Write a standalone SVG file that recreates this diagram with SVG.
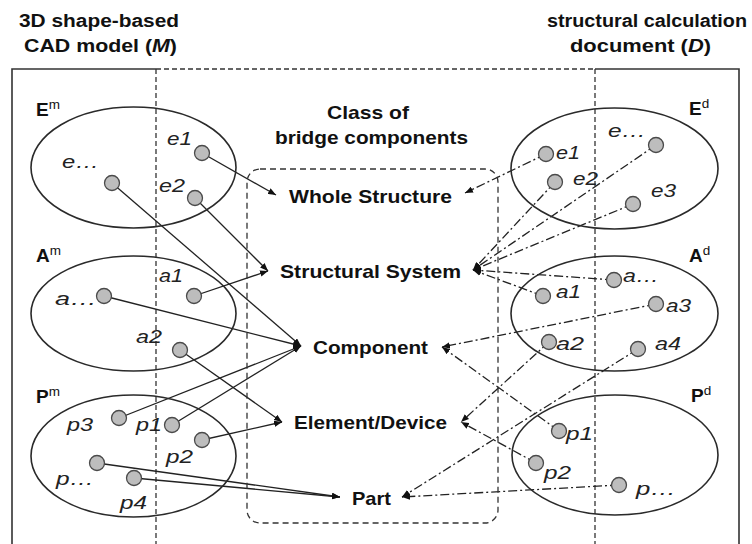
<svg xmlns="http://www.w3.org/2000/svg" width="752" height="544" viewBox="0 0 752 544">
<style>
  text { font-family: "Liberation Sans", Arial, sans-serif; fill: #111; }
  .title { font-size: 18px; font-weight: bold; }
  .cls { font-size: 19px; font-weight: bold; }
  .set { font-size: 19px; font-weight: bold; }
  .sup { font-size: 13.5px; font-weight: normal; }
  .el { font-size: 18px; font-style: italic; fill: #222; }
  .frame { fill: none; stroke: #333; stroke-width: 1.6; }
  .vdash { fill: none; stroke: #333; stroke-width: 1.3; stroke-dasharray: 5 3; }
  .classbox { fill: none; stroke: #333; stroke-width: 1.3; stroke-dasharray: 6 4; }
  .ell { fill: none; stroke: #2a2a2a; stroke-width: 1.6; }
  .dot { fill: #bdbdbd; stroke: #4a4a4a; stroke-width: 1.3; }
  .m2c { fill: none; stroke: #222; stroke-width: 1.3; marker-end: url(#arr); }
  .d2c { fill: none; stroke: #222; stroke-width: 1.3; stroke-dasharray: 9 3 2 3; marker-end: url(#arr); }
</style>
<defs>
  <marker id="arr" viewBox="0 0 10 8" refX="10" refY="4" markerWidth="8" markerHeight="6.5" markerUnits="userSpaceOnUse" orient="auto">
    <path d="M0,0 L10,4 L0,8 z" fill="#111" stroke="none"/>
  </marker>
</defs>

<g id="titles">
  <text class="title" x="19" y="27" textLength="160" lengthAdjust="spacingAndGlyphs">3D shape-based</text>
  <text class="title" x="24" y="52" textLength="153" lengthAdjust="spacingAndGlyphs">CAD model (<tspan font-style="italic">M</tspan>)</text>
  <text class="title" x="547" y="27" textLength="200" lengthAdjust="spacingAndGlyphs">structural calculation</text>
  <text class="title" x="570" y="52" textLength="141" lengthAdjust="spacingAndGlyphs">document (<tspan font-style="italic">D</tspan>)</text>
</g>

<g id="frame">
  <path class="frame" d="M12,544 V69 H156"/>
  <path class="frame" d="M595,69 H739 V544"/>
  <path class="vdash" d="M156,69 H595"/>
  <path class="vdash" d="M156,69 V544"/>
  <path class="vdash" d="M595,69 V544"/>
</g>

<g id="connectors">
  <!-- CAD model to class (solid) -->
  <line class="m2c" x1="202" y1="153" x2="276" y2="195"/>
  <line class="m2c" x1="195" y1="198" x2="268" y2="271"/>
  <line class="m2c" x1="112" y1="183" x2="301" y2="346"/>
  <line class="m2c" x1="194" y1="296" x2="268" y2="271"/>
  <line class="m2c" x1="104" y1="296" x2="301" y2="346"/>
  <line class="m2c" x1="180" y1="350" x2="282" y2="422"/>
  <line class="m2c" x1="119" y1="418" x2="301" y2="346"/>
  <line class="m2c" x1="172" y1="425" x2="301" y2="346"/>
  <line class="m2c" x1="202" y1="440" x2="282" y2="422"/>
  <line class="m2c" x1="97" y1="463" x2="340" y2="497"/>
  <line class="m2c" x1="134" y1="478" x2="340" y2="497"/>
  <!-- calculation document to class (dash-dot) -->
  <line class="d2c" x1="546" y1="154" x2="465" y2="193"/>
  <line class="d2c" x1="555" y1="182" x2="473" y2="270"/>
  <line class="d2c" x1="656" y1="145" x2="473" y2="270"/>
  <line class="d2c" x1="633" y1="204" x2="473" y2="270"/>
  <line class="d2c" x1="614" y1="280" x2="473" y2="270"/>
  <line class="d2c" x1="543" y1="296" x2="473" y2="270"/>
  <line class="d2c" x1="656" y1="304" x2="442" y2="347"/>
  <line class="d2c" x1="559" y1="431" x2="442" y2="347"/>
  <line class="d2c" x1="549" y1="342" x2="461" y2="422"/>
  <line class="d2c" x1="536" y1="463" x2="461" y2="422"/>
  <line class="d2c" x1="638" y1="349" x2="402" y2="497"/>
  <line class="d2c" x1="619" y1="485" x2="402" y2="497"/>
</g>

<g id="class-of-bridge-components">
  <rect class="classbox" x="247" y="169" width="251" height="354" rx="13"/>
  <text class="cls" x="327" y="119" textLength="82" lengthAdjust="spacingAndGlyphs">Class of</text>
  <text class="cls" x="275" y="144" textLength="193" lengthAdjust="spacingAndGlyphs">bridge components</text>
  <g id="whole-structure"><text class="cls" x="289" y="203" textLength="163" lengthAdjust="spacingAndGlyphs">Whole Structure</text></g>
  <g id="structural-system"><text class="cls" x="280" y="278" textLength="181" lengthAdjust="spacingAndGlyphs">Structural System</text></g>
  <g id="component"><text class="cls" x="313" y="354" textLength="115" lengthAdjust="spacingAndGlyphs">Component</text></g>
  <g id="element-device"><text class="cls" x="294" y="429" textLength="153" lengthAdjust="spacingAndGlyphs">Element/Device</text></g>
  <g id="part"><text class="cls" x="352" y="505" textLength="39" lengthAdjust="spacingAndGlyphs">Part</text></g>
</g>

<g id="Em">
  <ellipse class="ell" cx="133.5" cy="167.5" rx="102.5" ry="60.5"/>
  <text class="set" x="36" y="116">E<tspan class="sup" dy="-7">m</tspan></text>
  <g id="m-e-etc"><circle class="dot" cx="112" cy="183" r="7.5"/><text class="el" x="62" y="168" textLength="37" lengthAdjust="spacingAndGlyphs">e…</text></g>
  <g id="m-e1"><circle class="dot" cx="202" cy="153" r="7.5"/><text class="el" x="167" y="145" textLength="25" lengthAdjust="spacingAndGlyphs">e1</text></g>
  <g id="m-e2"><circle class="dot" cx="195" cy="198" r="7.5"/><text class="el" x="159" y="192" textLength="26" lengthAdjust="spacingAndGlyphs">e2</text></g>
</g>

<g id="Am">
  <ellipse class="ell" cx="133.5" cy="313.5" rx="102.5" ry="57.5"/>
  <text class="set" x="36" y="262">A<tspan class="sup" dy="-7">m</tspan></text>
  <g id="m-a-etc"><circle class="dot" cx="104" cy="296" r="7.5"/><text class="el" x="55" y="305" textLength="42" lengthAdjust="spacingAndGlyphs">a…</text></g>
  <g id="m-a1"><circle class="dot" cx="194" cy="296" r="7.5"/><text class="el" x="159" y="282" textLength="24" lengthAdjust="spacingAndGlyphs">a1</text></g>
  <g id="m-a2"><circle class="dot" cx="180" cy="350" r="7.5"/><text class="el" x="136" y="343" textLength="26" lengthAdjust="spacingAndGlyphs">a2</text></g>
</g>

<g id="Pm">
  <ellipse class="ell" cx="133.5" cy="456" rx="102.5" ry="61"/>
  <text class="set" x="36" y="403">P<tspan class="sup" dy="-7">m</tspan></text>
  <g id="m-p3"><circle class="dot" cx="119" cy="418" r="7.5"/><text class="el" x="67" y="431" textLength="26" lengthAdjust="spacingAndGlyphs">p3</text></g>
  <g id="m-p1"><circle class="dot" cx="172" cy="425" r="7.5"/><text class="el" x="136" y="431" textLength="26" lengthAdjust="spacingAndGlyphs">p1</text></g>
  <g id="m-p2"><circle class="dot" cx="202" cy="440" r="7.5"/><text class="el" x="166" y="463" textLength="27" lengthAdjust="spacingAndGlyphs">p2</text></g>
  <g id="m-p-etc"><circle class="dot" cx="97" cy="463" r="7.5"/><text class="el" x="56" y="485" textLength="38" lengthAdjust="spacingAndGlyphs">p…</text></g>
  <g id="m-p4"><circle class="dot" cx="134" cy="478" r="7.5"/><text class="el" x="120" y="509" textLength="27" lengthAdjust="spacingAndGlyphs">p4</text></g>
</g>

<g id="Ed">
  <ellipse class="ell" cx="614.5" cy="168.5" rx="103.5" ry="60.5"/>
  <text class="set" x="689" y="115">E<tspan class="sup" dy="-7">d</tspan></text>
  <g id="d-e1"><circle class="dot" cx="546" cy="154" r="7.5"/><text class="el" x="556" y="159" textLength="24" lengthAdjust="spacingAndGlyphs">e1</text></g>
  <g id="d-e2"><circle class="dot" cx="555" cy="182" r="7.5"/><text class="el" x="573" y="185" textLength="25" lengthAdjust="spacingAndGlyphs">e2</text></g>
  <g id="d-e-etc"><circle class="dot" cx="656" cy="145" r="7.5"/><text class="el" x="608" y="137" textLength="38" lengthAdjust="spacingAndGlyphs">e…</text></g>
  <g id="d-e3"><circle class="dot" cx="633" cy="204" r="7.5"/><text class="el" x="651" y="197" textLength="25" lengthAdjust="spacingAndGlyphs">e3</text></g>
</g>

<g id="Ad">
  <ellipse class="ell" cx="614.5" cy="313.5" rx="103.5" ry="57.5"/>
  <text class="set" x="689" y="262">A<tspan class="sup" dy="-7">d</tspan></text>
  <g id="d-a-etc"><circle class="dot" cx="614" cy="280" r="7.5"/><text class="el" x="623" y="282" textLength="36" lengthAdjust="spacingAndGlyphs">a…</text></g>
  <g id="d-a1"><circle class="dot" cx="543" cy="296" r="7.5"/><text class="el" x="556" y="298" textLength="25" lengthAdjust="spacingAndGlyphs">a1</text></g>
  <g id="d-a3"><circle class="dot" cx="656" cy="304" r="7.5"/><text class="el" x="666" y="312" textLength="25" lengthAdjust="spacingAndGlyphs">a3</text></g>
  <g id="d-a2"><circle class="dot" cx="549" cy="342" r="7.5"/><text class="el" x="556" y="350" textLength="28" lengthAdjust="spacingAndGlyphs">a2</text></g>
  <g id="d-a4"><circle class="dot" cx="638" cy="349" r="7.5"/><text class="el" x="655" y="350" textLength="26" lengthAdjust="spacingAndGlyphs">a4</text></g>
</g>

<g id="Pd">
  <ellipse class="ell" cx="615" cy="455" rx="103" ry="60"/>
  <text class="set" x="691" y="402">P<tspan class="sup" dy="-7">d</tspan></text>
  <g id="d-p1"><circle class="dot" cx="559" cy="431" r="7.5"/><text class="el" x="566" y="440" textLength="27" lengthAdjust="spacingAndGlyphs">p1</text></g>
  <g id="d-p2"><circle class="dot" cx="536" cy="463" r="7.5"/><text class="el" x="544" y="479" textLength="27" lengthAdjust="spacingAndGlyphs">p2</text></g>
  <g id="d-p-etc"><circle class="dot" cx="619" cy="485" r="7.5"/><text class="el" x="636" y="495" textLength="40" lengthAdjust="spacingAndGlyphs">p…</text></g>
</g>
</svg>
